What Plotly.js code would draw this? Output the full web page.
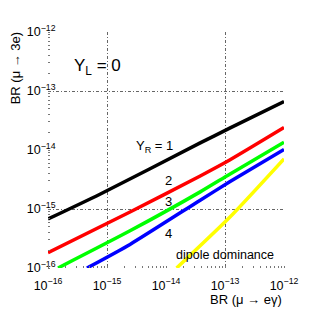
<!DOCTYPE html>
<html><head><meta charset="utf-8">
<script src="https://cdn.plot.ly/plotly-3.0.1.min.js"></script>
<style>html,body{margin:0;padding:0;background:#fff}#c{width:316px;height:316px}</style>
</head><body><div id="c"></div>
<script>
// BR(mu -> e gamma) values (x) and BR(mu -> 3e) values (y), read as log10 exponents
const xYR1 = [-16, -15.12, -13.42, -12.92, -12];
const yYR1 = [-15.17, -14.75, -13.88, -13.63, -13.18];
const xYR2 = [-16, -14.61, -13.42, -12.92, -12];
const yYR2 = [-15.74, -15.05, -14.44, -14.17, -13.62];
const xYR3 = [-15.83, -14.61, -13.42, -12.92, -12];
const yYR3 = [-16, -15.37, -14.71, -14.41, -13.87];
const xYR4 = [-15.34, -14.61, -13.42, -12.92, -12];
const yYR4 = [-16, -15.6, -14.85, -14.54, -13.99];
const xDip = [-13.82, -12.92, -12];
const yDip = [-16, -15.14, -14.15];
const gridVals = [1e-15, 1e-13];

const pow10 = a => a.map(v => Math.pow(10, v));
const font = 'Liberation Sans, Arial, sans-serif';
function line(x, y, c) {
  return {x: pow10(x), y: pow10(y), mode: 'lines', type: 'scatter',
    line: {color: c, width: 3.5, shape: 'spline', smoothing: 0.6}, hoverinfo: 'none', showlegend: false};
}
const traces = [
  {x: [], y: [], xaxis: 'x2', yaxis: 'y2', type: 'scatter', showlegend: false},
  line(xYR1, yYR1, '#000000'),
  line(xYR2, yYR2, '#ff0000'),
  line(xYR3, yYR3, '#00ff00'),
  line(xYR4, yYR4, '#0000ff'),
  line(xDip, yDip, '#ffff00')
];
const minorTicks = {ticks: 'inside', ticklen: 2, tickcolor: '#777', dtick: 'D1', showgrid: false};
const axBase = {
  type: 'log', range: [-16, -12], showline: false, zeroline: false, showgrid: false,
  dtick: 1, exponentformat: 'power', ticks: '', ticklen: 0, tickfont: {family: font, size: 10, color: '#000'}
};
const gridAx = {
  type: 'log', range: [-16, -12], tickvals: gridVals, showticklabels: false, ticks: '',
  showgrid: true, gridcolor: '#666', gridwidth: 1, griddash: '3px,2px,1px,2px',
  zeroline: false, showline: false, minor: minorTicks
};
function ann(x, y, text, size, extra) {
  return Object.assign({xref: 'paper', yref: 'paper', x: x, y: y, text: text, showarrow: false,
    xanchor: 'center', yanchor: 'middle', font: {size: size}}, extra || {});
}
const layout = {
  width: 316, height: 316,
  margin: {l: 48, r: 32, t: 32, b: 48},
  paper_bgcolor: '#fff', plot_bgcolor: '#fff',
  xaxis: Object.assign({ticklabelstandoff: 8}, axBase),
  yaxis: Object.assign({anchor: 'free', position: 0.032}, axBase),
  xaxis2: Object.assign({overlaying: 'x', anchor: 'y2'}, gridAx),
  yaxis2: Object.assign({overlaying: 'y', anchor: 'x2'}, gridAx),
  font: {family: font, color: '#000'},
  annotations: [
    ann(0.21, 0.85, 'Y<sub>L</sub> = 0', 17),
    ann(0.45, 0.515, 'Y<sub>R</sub> = 1', 13),
    ann(0.51, 0.372, '2', 13),
    ann(0.51, 0.28, '3', 13),
    ann(0.51, 0.146, '4', 13),
    ann(0.75, 0.055, 'dipole dominance', 12.5),
    ann(-0.14, 0.85, 'BR (μ → 3e)', 13, {textangle: -90}),
    ann(1.0, -0.135, 'BR (μ → eγ)', 13, {xanchor: 'right'})
  ]
};
Plotly.newPlot('c', traces, layout, {staticPlot: true, displayModeBar: false});
</script></body></html>
